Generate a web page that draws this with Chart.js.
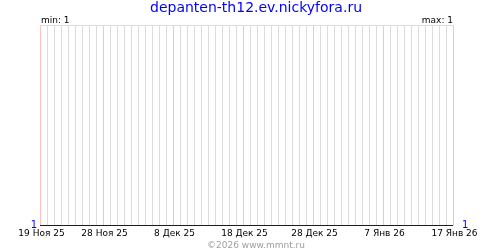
<!DOCTYPE html>
<html>
<head>
<meta charset="utf-8">
<script src="https://cdn.jsdelivr.net/npm/chart.js@4"></script>
<style>
  html, body { margin: 0; padding: 0; background: #fff; }
  #wrap { width: 500px; height: 250px; position: relative; }
</style>
</head>
<body>
<div id="wrap"><canvas id="chart"></canvas></div>
<script>
// Chart data
const siteName = 'depanten-th12.ev.nickyfora.ru';
const footerText = '©2026 www.mmnt.ru';
const dayLabels = ['19 Ноя 25', '28 Ноя 25', '8 Дек 25', '18 Дек 25', '28 Дек 25', '7 Янв 26', '17 Янв 26'];
const labelDays = [0, 9, 19, 29, 39, 49, 59];
const values = [
    1, 1, 1, 1, 1, 1, 1, 1, 1, 1,
    1, 1, 1, 1, 1, 1, 1, 1, 1, 1,
    1, 1, 1, 1, 1, 1, 1, 1, 1, 1,
    1, 1, 1, 1, 1, 1, 1, 1, 1, 1,
    1, 1, 1, 1, 1, 1, 1, 1, 1, 1,
    1, 1, 1, 1, 1, 1, 1, 1, 1, 1
];

const minVal = Math.min(...values);
const maxVal = Math.max(...values);
const smallFont = { family: 'DejaVu Sans', size: 9 };

// Title, min/max and footer texts
const textPlugin = {
    id: 'texts',
    afterDraw(chart) {
        const ctx = chart.ctx;
        const area = chart.chartArea;
        ctx.save();
        ctx.textBaseline = 'alphabetic';

        ctx.font = '14px "DejaVu Sans"';
        ctx.fillStyle = '#0000ff';
        ctx.textAlign = 'center';
        ctx.fillText(siteName, 256, 12);

        ctx.font = '9px "DejaVu Sans"';
        ctx.fillStyle = '#000';
        ctx.textAlign = 'left';
        ctx.fillText('min: ' + minVal, area.left + 1, 22.5);
        ctx.textAlign = 'right';
        ctx.fillText('max: ' + maxVal, area.right, 22.5);

        ctx.fillStyle = '#a0a0a0';
        ctx.textAlign = 'center';
        ctx.fillText(footerText, 256, 247.5);
        ctx.restore();
    }
};

const yAxis = (position, pad, width) => ({
    position: position,
    min: minVal,
    max: minVal + 1,
    afterBuildTicks: axis => { axis.ticks = [{ value: minVal }, { value: minVal + 1 }]; },
    afterFit: axis => { axis.width = width; },
    grid: {
        drawTicks: false,
        color: c => c.index === 1 ? '#dcdcdc' : 'rgba(0,0,0,0)'
    },
    border: { display: false },
    ticks: {
        padding: pad,
        color: '#0000ff',
        font: { family: 'DejaVu Sans', size: 10 },
        callback: (v, i) => i === 0 ? String(maxVal) : ''
    }
});

new Chart(document.getElementById('chart'), {
    type: 'line',
    data: {
        datasets: [{
            data: values.map((v, i) => ({ x: i, y: v })),
            borderColor: '#0000ff',
            borderWidth: 1,
            pointRadius: 0,
            tension: 0,
            fill: false,
            clip: false
        }]
    },
    options: {
        responsive: true,
        maintainAspectRatio: false,
        animation: false,
        layout: { padding: { top: 25, left: 0, right: 0, bottom: 0 } },
        plugins: {
            legend: { display: false },
            tooltip: { enabled: false }
        },
        scales: {
            x: {
                type: 'linear',
                min: 0,
                max: values.length - 1,
                afterBuildTicks: axis => { axis.ticks = values.map((v, i) => ({ value: i })); },
                afterFit: axis => { axis.height = 24.5; },
                grid: {
                    drawTicks: false,
                    color: c => labelDays.includes(c.index) ? '#ffc0c0' : '#dcdcdc'
                },
                border: { display: false },
                ticks: {
                    autoSkip: false,
                    maxRotation: 0,
                    padding: 3,
                    labelOffset: 1.5,
                    color: '#000',
                    font: smallFont,
                    callback: (v, i) => {
                        const k = labelDays.indexOf(i);
                        return k >= 0 ? dayLabels[k] : '';
                    }
                }
            },
            y: yAxis('left', 3, 40),
            y2: yAxis('right', 9, 47)
        }
    },
    plugins: [textPlugin]
});
</script>
</body>
</html>
